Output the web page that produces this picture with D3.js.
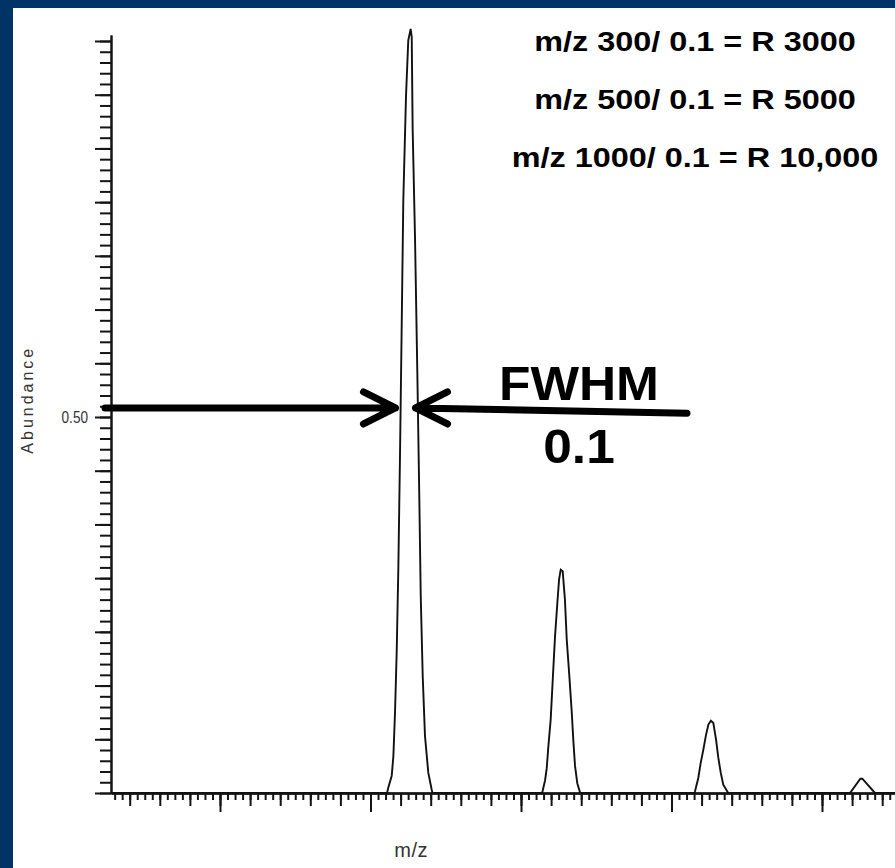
<!DOCTYPE html>
<html>
<head>
<meta charset="utf-8">
<script src="https://cdn.jsdelivr.net/npm/d3@7"></script>
<style>
  body { margin: 0; background: #003466; }
  svg { display: block; }
  text { font-family: Arial, "Liberation Sans", sans-serif; }
</style>
</head>
<body>
<div id="chart"></div>
<script>
// Profile points: [m/z, relative abundance]
const peak1 = [
  [300.110, 0], [300.118, 0.007], [300.141, 0.023], [300.152, 0.049], [300.163, 0.108],
  [300.174, 0.187], [300.185, 0.299], [300.196, 0.449], [300.207, 0.617], [300.218, 0.788],
  [300.236, 0.927], [300.251, 1.001], [300.267, 1.016], [300.274, 1.005], [300.280, 0.884],
  [300.296, 0.736], [300.311, 0.561], [300.324, 0.397], [300.334, 0.260], [300.347, 0.155],
  [300.362, 0.076], [300.384, 0.027], [300.407, 0.004], [300.412, 0]
];
const peak2 = [
  [301.140, 0], [301.144, 0.003], [301.160, 0.017], [301.171, 0.033], [301.181, 0.060],
  [301.197, 0.097], [301.211, 0.151], [301.226, 0.208], [301.243, 0.257], [301.253, 0.284],
  [301.264, 0.297], [301.277, 0.295], [301.292, 0.257], [301.304, 0.204], [301.321, 0.156],
  [301.337, 0.108], [301.348, 0.069], [301.359, 0.036], [301.374, 0.013], [301.392, 0.001],
  [301.395, 0]
];
const peak3 = [
  [302.152, 0], [302.156, 0.002], [302.178, 0.020], [302.194, 0.040], [302.211, 0.057],
  [302.229, 0.077], [302.245, 0.091], [302.262, 0.096], [302.278, 0.093], [302.296, 0.071],
  [302.311, 0.047], [302.327, 0.027], [302.344, 0.011], [302.377, 0]
];
const peak4 = [
  [303.186, 0], [303.255, 0.019], [303.268, 0.019], [303.352, 0]
];

// y axis: major tick every 1/14, minor every 1/70, only 0.50 is labelled
const yLabelValues = [0.5];
const yLabelText = ["0.50"];

const annoLines = ["m/z 300/ 0.1 = R 3000", "m/z 500/ 0.1 = R 5000", "m/z 1000/ 0.1 = R 10,000"];
const fwhmText = ["FWHM", "0.1"];
// FWHM arrows in data units
const halfMax = 0.512;
const fwhmLeftTip = 300.166, fwhmRightTip = 300.299;
const leftArrowStart = 298.236;
const rightArrowEnd = [302.103, 0.505];

const W = 895, H = 868;
const svg = d3.select("#chart").append("svg")
    .attr("width", W)
    .attr("height", H);

// white panel inside the blue frame
svg.append("rect")
    .attr("x", 13).attr("y", 8)
    .attr("width", W - 13).attr("height", H - 8)
    .attr("fill", "#fff");

// scales: one m/z unit = 150.5 px
const x0 = d3.scaleLinear().domain([299, 300]).range([220, 370.5]);
const mzMin = x0.invert(111), mzMax = x0.invert(W);
const x = d3.scaleLinear().domain([mzMin, mzMax]).range([111, W]);
const y = d3.scaleLinear().domain([0, 1]).range([793, 41]);
const yTop = y.invert(35);

const ink = "#141414";
const labelInk = "#333";

function ticksBetween(lo, hi, step) {
  const out = [];
  for (let k = Math.ceil(lo / step - 1e-9); k * step <= hi + 1e-9; k++) out.push(+(k * step).toFixed(4));
  return out;
}

// x axis: minor 0.05, medium 0.2, long 1.0
const xMinor = ticksBetween(mzMin, mzMax, 0.05);
const xMid = ticksBetween(mzMin, mzMax, 0.2);
const xLong = ticksBetween(mzMin, mzMax, 1);
[[xMinor, 7], [xMid, 13], [xLong, 19]].forEach(([vals, len]) => {
  const g = svg.append("g")
      .attr("transform", "translate(0,793)")
      .call(d3.axisBottom(x).tickValues(vals).tickSize(len).tickSizeOuter(0).tickFormat(""));
  g.selectAll("line").attr("stroke", ink).attr("stroke-width", 2);
  g.select(".domain").attr("stroke", ink).attr("stroke-width", 2);
});

// y axis
const yScaleAxis = d3.scaleLinear().domain([0, yTop]).range([y(0), y(yTop)]);
const yMinor = d3.range(0, 71).map(k => k / 70);
const yMajor = d3.range(0, 15).map(k => k / 14);
const gyMinor = svg.append("g")
    .attr("transform", "translate(111,0)")
    .call(d3.axisLeft(yScaleAxis).tickValues(yMinor).tickSize(11).tickSizeOuter(0).tickFormat(""));
const gyMajor = svg.append("g")
    .attr("transform", "translate(111,0)")
    .call(d3.axisLeft(yScaleAxis).tickValues(yMajor).tickSize(16).tickSizeOuter(0).tickFormat(""));
[gyMinor, gyMajor].forEach(g => {
  g.selectAll("line").attr("stroke", ink).attr("stroke-width", 2);
  g.select(".domain").attr("stroke", ink).attr("stroke-width", 2);
});

// y tick label (narrow, tall glyphs like the screen font)
svg.selectAll(".ylab")
    .data(yLabelValues)
    .join("text")
    .attr("class", "ylab")
    .attr("transform", d => `translate(88,${yScaleAxis(d) + 6}) scale(0.85,1)`)
    .attr("text-anchor", "end")
    .attr("font-size", 16)
    .attr("fill", labelInk)
    .text((d, i) => yLabelText[i]);

// axis titles
svg.append("text")
    .attr("transform", `translate(33,${y(0.523)}) rotate(-90)`)
    .attr("text-anchor", "middle")
    .attr("font-size", 16)
    .attr("letter-spacing", 3)
    .attr("fill", labelInk)
    .text("Abundance");

svg.append("text")
    .attr("x", x(300.27))
    .attr("y", 857)
    .attr("text-anchor", "middle")
    .attr("font-size", 20)
    .attr("letter-spacing", 0.5)
    .attr("fill", labelInk)
    .text("m/z");

// spectrum trace
const trace = [[mzMin, 0]].concat(peak1, peak2, peak3, peak4, [[mzMax, 0]]);
svg.append("path")
    .datum(trace)
    .attr("fill", "none")
    .attr("stroke", "#111")
    .attr("stroke-width", 1.9)
    .attr("d", d3.line().x(d => x(d[0])).y(d => y(d[1])));

// FWHM arrows
const arrowStroke = 7;
const ly = y(halfMax);
svg.append("path")
    .attr("d", `M${x(leftArrowStart)},${ly}H${x(fwhmLeftTip)}`
      + `M${x(fwhmLeftTip) - 32},${ly - 16}L${x(fwhmLeftTip)},${ly}L${x(fwhmLeftTip) - 32},${ly + 16}`)
    .attr("fill", "none").attr("stroke", "#000")
    .attr("stroke-width", arrowStroke).attr("stroke-linecap", "round").attr("stroke-linejoin", "round");
svg.append("path")
    .attr("d", `M${x(rightArrowEnd[0])},${y(rightArrowEnd[1])}L${x(fwhmRightTip)},${ly}`
      + `M${x(fwhmRightTip) + 32},${ly - 16}L${x(fwhmRightTip)},${ly}L${x(fwhmRightTip) + 32},${ly + 16}`)
    .attr("fill", "none").attr("stroke", "#000")
    .attr("stroke-width", arrowStroke).attr("stroke-linecap", "round").attr("stroke-linejoin", "round");

// FWHM label
svg.selectAll(".fwhm")
    .data(fwhmText)
    .join("text")
    .attr("class", "fwhm")
    .attr("transform", (d, i) => `translate(579,${400 + i * 63}) scale(1.05,1)`)
    .attr("text-anchor", "middle")
    .attr("font-size", 49)
    .attr("font-weight", "bold")
    .attr("fill", "#000")
    .text(d => d);

// resolution notes
svg.selectAll(".anno")
    .data(annoLines)
    .join("text")
    .attr("class", "anno")
    .attr("transform", (d, i) => `translate(695,${51 + i * 58}) scale(1.2,1)`)
    .attr("text-anchor", "middle")
    .attr("font-size", 27)
    .attr("font-weight", "bold")
    .attr("fill", "#000")
    .text(d => d);
</script>
</body>
</html>
